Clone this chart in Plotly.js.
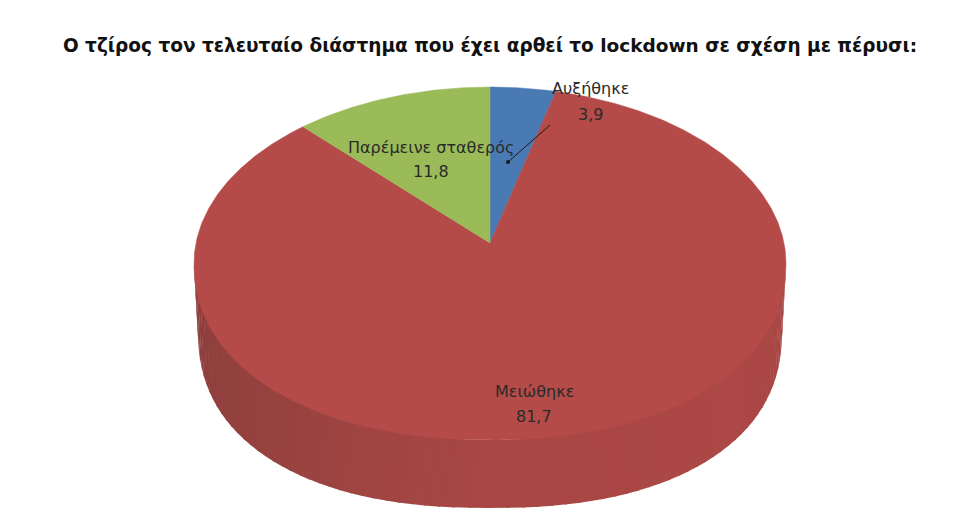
<!DOCTYPE html>
<html><head><meta charset="utf-8">
<script src="https://cdn.plot.ly/plotly-3.0.1.min.js"></script>
<style>html,body{margin:0;padding:0;background:#fff}#c{width:980px;height:520px}</style>
</head><body><div id="c"></div>
<script>
const chartTitle = "Ο τζίρος τον τελευταίο διάστημα που έχει αρθεί το lockdown σε σχέση με πέρυσι:";
const categories = ["Αυξήθηκε", "Μειώθηκε", "Παρέμεινε σταθερός"];
const values = [3.9, 81.7, 11.8];
const valueLabels = ["3,9", "81,7", "11,8"];
const sliceColors = ["#4a7ab4", "#b54b48", "#9bbb59"];

// perspective disc: maps a fraction of the circle onto the tilted top face
const cx = 490, apexY = 243, topY = 87, frontY = 440, rimX = 296, depthBottomY = 508;
const topYc = (topY + frontY) / 2, topRy = (frontY - topY) / 2;
const persp = (function () {
  const c = (2 * apexY - topY - frontY) / (frontY - topY) * -1;
  const a = topY * (1 + c) - apexY;
  const R = rimX * Math.sqrt(1 - c * c);
  return { a, c, R };
})();
const frontFullness = 2.15;
function topPoint(frac) {
  const phi = 2 * Math.PI * frac;
  const u = Math.sin(phi), v = Math.cos(phi);
  const d = 1 + persp.c * v;
  let X = cx + persp.R * u / d;
  const Y = (persp.a * v + apexY) / d;
  if (Y > topYc) {
    const dy = Math.min(1, (Y - topYc) / topRy);
    X = cx + Math.sign(u) * rimX * Math.pow(1 - Math.pow(dy, frontFullness), 1 / frontFullness);
  }
  return [X, Y];
}
const total = values.reduce((s, v) => s + v, 0);
function wedge(start, end) {
  const xs = [cx], ys = [apexY];
  const n = Math.max(4, Math.ceil((end - start) * 720));
  for (let i = 0; i <= n; i++) {
    const p = topPoint(start + (end - start) * i / n);
    xs.push(p[0]); ys.push(p[1]);
  }
  xs.push(cx); ys.push(apexY);
  return { xs, ys };
}

// side wall: strips between the top rim and the lower rim, front half only
const botRx = 292, botRy = 178, botYc = depthBottomY - botRy, botN = 2.3;
const shadeStops = [[0, [140, 62, 60]], [0.25, [150, 66, 63]], [0.5, [168, 71, 68]], [0.8, [172, 72, 70]], [1, [166, 70, 67]]];
function shade(t) {
  for (let i = 1; i < shadeStops.length; i++) {
    if (t <= shadeStops[i][0]) {
      const [t0, c0] = shadeStops[i - 1], [t1, c1] = shadeStops[i];
      const k = (t - t0) / (t1 - t0);
      return "rgb(" + c0.map((c, j) => Math.round(c + (c1[j] - c) * k)).join(",") + ")";
    }
  }
  return "rgb(166,70,67)";
}
function rim(rx, yc, ry, n, a) {
  const s = Math.sin(a), c = Math.cos(a);
  return [cx + rx * Math.sign(s) * Math.pow(Math.abs(s), 2 / n), yc - ry * Math.sign(c) * Math.pow(Math.abs(c), 2 / n)];
}
const traces = [];
const strips = 72;
for (let i = 0; i < strips; i++) {
  const a0 = Math.PI * (0.5 + i / strips), a1 = Math.PI * (0.5 + (i + 1.15) / strips);
  const p = [rim(rimX, topYc, topRy, 2, a0), rim(rimX, topYc, topRy, 2, a1), rim(botRx, botYc, botRy, botN, a1), rim(botRx, botYc, botRy, botN, a0)];
  traces.push({
    type: "scatter", mode: "lines", x: p.map(q => q[0]).concat(p[0][0]), y: p.map(q => q[1]).concat(p[0][1]),
    fill: "toself", fillcolor: shade(1 - (i + 0.5) / strips), line: { width: 0 }, hoverinfo: "skip", showlegend: false
  });
}
let acc = 0;
categories.forEach((name, i) => {
  const w = wedge(acc / total, (acc + values[i]) / total);
  acc += values[i];
  traces.push({
    type: "scatter", mode: "lines", x: w.xs, y: w.ys, fill: "toself", fillcolor: sliceColors[i],
    line: { width: 0.5, color: sliceColors[i] }, name: name, text: name + ": " + valueLabels[i], hoverinfo: "text", showlegend: false
  });
});
const labelX = [590, 534, 431];
const nameY = [88, 391, 147];
const valueY = [114, 416, 171];
const labelFont = { family: "DejaVu Sans, sans-serif", size: 16, color: "#2a2a2a" };
const annotations = [];
categories.forEach((name, i) => {
  annotations.push({ x: labelX[i], y: nameY[i], xref: "x", yref: "y", showarrow: false, text: name, font: labelFont, xanchor: "center", yanchor: "middle" });
  annotations.push({ x: labelX[i], y: valueY[i], xref: "x", yref: "y", showarrow: false, text: valueLabels[i], font: labelFont, xanchor: "center", yanchor: "middle" });
});
const layout = {
  width: 980, height: 520, margin: { l: 0, r: 0, t: 0, b: 0 },
  paper_bgcolor: "#fff", plot_bgcolor: "#fff", showlegend: false,
  title: { text: chartTitle, x: 0.5, xanchor: "center", y: 0.913, yanchor: "middle",
    font: { family: "DejaVu Sans, sans-serif", size: 18.5, color: "#111", weight: 700 } },
  xaxis: { range: [0, 980], visible: false, fixedrange: true },
  yaxis: { range: [520, 0], visible: false, fixedrange: true },
  annotations: annotations,
  shapes: [
    { type: "line", x0: 508, y0: 162, x1: 550, y1: 125, xref: "x", yref: "y", line: { color: "#1a1a1a", width: 1 } },
    { type: "circle", x0: 506, y0: 160, x1: 510, y1: 164, xref: "x", yref: "y", fillcolor: "#1a1a1a", line: { width: 0 } }
  ]
};
Plotly.newPlot("c", traces, layout, { displayModeBar: false, responsive: false });
</script></body></html>
